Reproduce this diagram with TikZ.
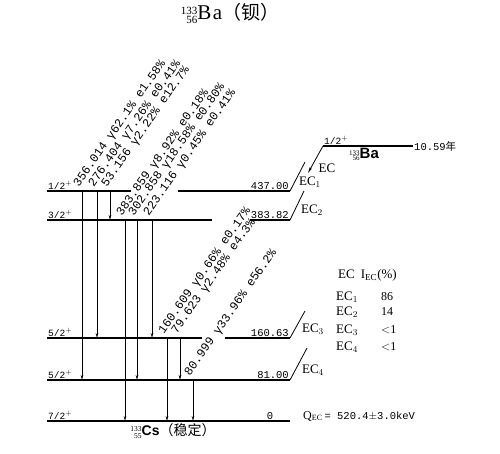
\documentclass[tikz,border=0pt]{standalone}
\usepackage{fontspec}
\setmainfont{Liberation Serif}
\setsansfont{Liberation Sans}
\setmonofont{Liberation Mono}
\newfontfamily\cjk{Noto Sans CJK SC}
\usetikzlibrary{arrows.meta, calc}
\tikzset{
  levelline/.style={line width=1.1pt},
  gammaline/.style={line width=0.8pt, -{Stealth[length=5pt,width=2.6pt]}},
  ecline/.style={line width=0.8pt},
  gammatext/.style={font=\fontsize{12}{12}\selectfont\ttfamily, rotate=55, anchor=south west, inner sep=0pt}
}
\tikzset{
  energytext/.style={font=\fontsize{10.5}{12}\selectfont\ttfamily, anchor=south east, inner sep=1pt},
  spintext/.style={font=\fontsize{9.5}{11}\selectfont\ttfamily, anchor=south west, inner sep=1pt},
  ectext/.style={font=\fontsize{13}{14}\selectfont, inner sep=0pt}
}
\newcommand{\nucl}[3][7]{{\fontsize{#1}{#1}\selectfont\raisebox{-0.35em}{\begin{tabular}[b]{@{}r@{}}#2\\[-0.15em]#3\end{tabular}}}}

\begin{document}
\begin{tikzpicture}[x=1pt, y=-1pt, >=stealth]
  \useasboundingbox (0,0) rectangle (500,453);
  \node (title) at (230,15) {\fontsize{21}{22}\selectfont\nucl[11]{133}{56}B\kern1.5pt a{\cjk\fontsize{19}{20}\selectfont （钡）}};
  % levels of the daughter
  \foreach \n/\y in {437/191, 383/220, 160/338, 81/380, 0/421} {
    \coordinate (L\n) at (47,\y);
    \coordinate (R\n) at (290,\y);
  }
  \draw[levelline] (L437) -- ++(84,0) (R437) -- ++(-112,0);
  \draw[levelline] (L383) -- ++(165,0) (R383) -- ++(-40,0);
  \draw[levelline] (L160) -- ++(155,0) (R160) -- ++(-65,0);
  \draw[levelline] (L81) -- (R81);
  \draw[levelline] (L0) -- (R0);
  \node[spintext] (s437) at (L437) {1/2$^+$};
  \node[spintext] (s383) at (L383) {3/2$^+$};
  \node[spintext] (s160) at (L160) {5/2$^+$};
  \node[spintext] (s81) at (L81) {5/2$^+$};
  \node[spintext] (s0) at (L0) {7/2$^+$};
  \node[energytext] (e437) at (R437) {437.00};
  \node[energytext] (e383) at (R383) {383.82};
  \node[energytext] (e160) at (R160) {160.63};
  \node[energytext] (e81) at (R81) {81.00};
  \node[energytext, anchor=south] (e0) at (270,421) {0};
  % gamma transitions with their labels
  \foreach \x/\a/\b/\lab in {82/437/81/{356.014 γ62.1\% e1.58\%},
      97/437/160/{276.404 γ7.26\% e0.41\%}, 110/437/383/{53.156 γ2.22\% e12.7\%},
      125/383/0/{383.859 γ8.92\% e0.18\%}, 137/383/81/{302.858 γ18.58\% e0.80\%},
      152/383/160/{223.116 γ0.45\% e0.41\%}, 167/160/0/{160.609 γ0.66\% e0.17\%},
      180/160/81/{79.623 γ2.48\% e4.3\%}, 193/81/0/{80.999 γ33.96\% e56.2\%}} {
    \draw[gammaline] (\x,0 |- L\a) -- (\x,0 |- L\b);
    \node[gammatext] (g\x) at ($(\x,0 |- L\a)+(-1,-2)$) {\lab};
  }
  % parent level and EC branches
  \coordinate (P) at (323,146);
  \coordinate (Pe) at (413,146);
  \coordinate (Pt) at (308,173);
  \draw[levelline] (P) -- (Pe);
  \draw[ecline, -{Stealth[length=6pt,width=2.6pt]}] (P) -- (Pt);
  \node[spintext] (sp) at (P) {1/2$^+$};
  \node[anchor=west, inner sep=1pt] (half) at (Pe) {\fontsize{10.5}{12}\selectfont\ttfamily 10.59{\cjk 年}};
  \node[anchor=north west, inner sep=0pt] (ba) at (349,148) {\fontsize{15}{16}\selectfont\nucl[7]{133}{56}\sffamily\bfseries Ba};
  \foreach \n/\tx/\ty in {437/305/162, 383/304/191, 160/305/311, 81/307/348} {
    \coordinate (T\n) at (\tx,\ty);
    \draw[ecline] (R\n) -- (T\n);
  }
  \node[ectext] (ec) at (327,168) {EC};
  \node[ectext] (ec1) at (310,182) {EC$_1$};
  \node[ectext] (ec2) at (312,210) {EC$_2$};
  \node[ectext] (ec3) at (313,329) {EC$_3$};
  \node[ectext] (ec4) at (313,370) {EC$_4$};
  % branching table
  \node[ectext, anchor=west] (head) at (338,275) {EC\hspace{6pt}I$_{\mathrm{EC}}$(\%)};
  \foreach \n/\v/\y in {1/86/297, 2/14/312, 3/{$<$1}/330, 4/{$<$1}/347} {
    \node[ectext, anchor=west] (tab\n) at (336,\y) {EC$_\n$};
    \node[ectext, anchor=west, font=\fontsize{12}{14}\selectfont] (val\n) at (381,\y) {\v};
  }
  \node[anchor=west, inner sep=0pt] (q) at (303,416) {\fontsize{12}{14}\selectfont Q$_{\mathrm{EC}}$\,{\ttfamily\fontsize{10.5}{12}\selectfont = 520.4$\pm$3.0keV}};
  \node (cs) at (173,432) {\fontsize{14}{15}\selectfont\nucl[7.5]{133}{55}{\sffamily\bfseries Cs}{\cjk （稳定）}};
\end{tikzpicture}
\end{document}
